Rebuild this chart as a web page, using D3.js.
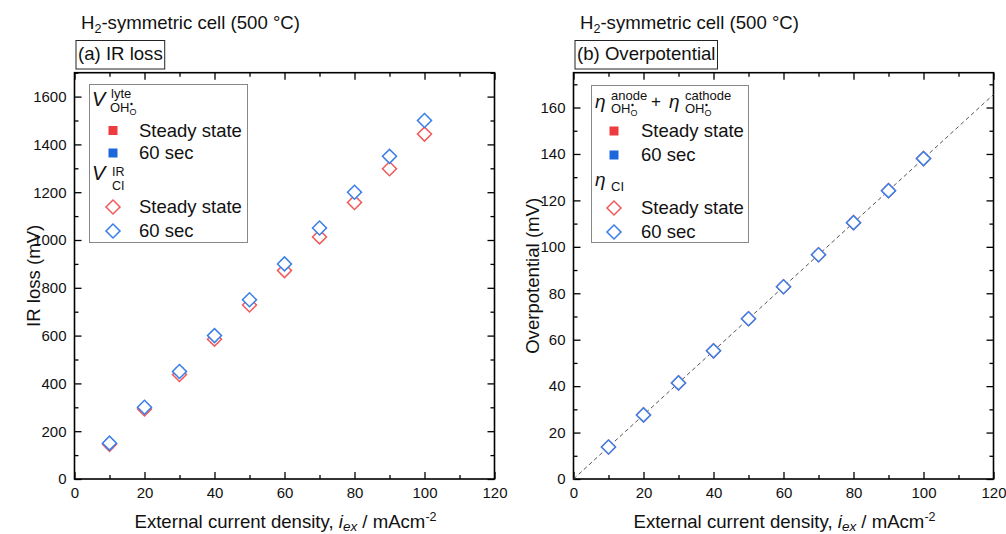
<!DOCTYPE html>
<html>
<head>
<meta charset="utf-8">
<script src="https://cdn.jsdelivr.net/npm/d3@7/dist/d3.min.js"></script>
<style>
  html, body { margin: 0; padding: 0; background: #fff; }
  svg { display: block; font-family: "Liberation Sans", Arial, sans-serif; }
</style>
</head>
<body>
<svg id="chart" width="1006" height="534"></svg>
<script>
// External current density (mA/cm^2)
const currentDensity = [10, 20, 30, 40, 50, 60, 70, 80, 90, 100];

// (a) IR loss, mV
const vLyteSteady = [145, 293, 437, 585, 728, 872, 1013, 1157, 1298, 1443];
const vLyte60s    = [150, 300, 450, 600, 750, 900, 1050, 1200, 1350, 1500];
const vIrClSteady = [145, 293, 437, 585, 728, 872, 1013, 1157, 1298, 1443];
const vIrCl60s    = [150, 300, 450, 600, 750, 900, 1050, 1200, 1350, 1500];

// (b) Overpotential, mV
const etaOhSteady = [13.8, 27.6, 41.4, 55.2, 69.0, 82.8, 96.6, 110.4, 124.2, 138.0];
const etaOh60s    = [13.8, 27.6, 41.4, 55.2, 69.0, 82.8, 96.6, 110.4, 124.2, 138.0];
const etaClSteady = [13.8, 27.6, 41.4, 55.2, 69.0, 82.8, 96.6, 110.4, 124.2, 138.0];
const etaCl60s    = [13.8, 27.6, 41.4, 55.2, 69.0, 82.8, 96.6, 110.4, 124.2, 138.0];

// Linear guide through the origin
const guideX = [0, 120];
const guideY = [0, 165.6];

// Axis ticks
const xTicks = [0, 20, 40, 60, 80, 100, 120];
const xMinor = [10, 30, 50, 70, 90, 110];
const yTicksA = [0, 200, 400, 600, 800, 1000, 1200, 1400, 1600];
const yMinorA = [100, 300, 500, 700, 900, 1100, 1300, 1500, 1700];
const yTicksB = [0, 20, 40, 60, 80, 100, 120, 140, 160];
const yMinorB = [10, 30, 50, 70, 90, 110, 130, 150, 170];

const RED_FILL = "#ee3b3f", BLUE_FILL = "#1c67dc";
const RED_LINE = "#f25a5a", BLUE_LINE = "#3a7ee8";
const INK = "#111";

const svg = d3.select("#chart");
const TOP = 72.7, BOTTOM = 479;

function panel(opts) {
  const g = svg.append("g");
  const x = d3.scaleLinear().domain([0, 120]).range([opts.left, opts.left + 420]);
  const y = d3.scaleLinear().domain(opts.yDomain).range([BOTTOM, TOP]);

  const tickStyle = sel => {
    sel.select(".domain").remove();
    sel.selectAll("line").attr("stroke", "#000").attr("stroke-width", 1.3);
    sel.selectAll("text").attr("font-size", 15).attr("fill", INK)
       .style("font-family", '"Liberation Sans", Arial, sans-serif');
  };

  // major + minor ticks on all four sides, pointing inward
  g.append("g").attr("transform", `translate(0,${BOTTOM})`)
    .call(d3.axisBottom(x).tickValues(xTicks).tickSize(-7).tickPadding(8).tickFormat(d3.format("d"))).call(tickStyle);
  g.append("g").attr("transform", `translate(0,${BOTTOM})`)
    .call(d3.axisBottom(x).tickValues(xMinor).tickSize(-4).tickFormat("")).call(tickStyle);
  g.append("g").attr("transform", `translate(0,${TOP})`)
    .call(d3.axisTop(x).tickValues(xTicks).tickSize(-7).tickFormat("")).call(tickStyle);
  g.append("g").attr("transform", `translate(0,${TOP})`)
    .call(d3.axisTop(x).tickValues(xMinor).tickSize(-4).tickFormat("")).call(tickStyle);
  g.append("g").attr("transform", `translate(${opts.left},0)`)
    .call(d3.axisLeft(y).tickValues(opts.yTicks).tickSize(-7).tickPadding(8).tickFormat(d3.format("d"))).call(tickStyle);
  g.append("g").attr("transform", `translate(${opts.left},0)`)
    .call(d3.axisLeft(y).tickValues(opts.yMinor).tickSize(-4).tickFormat("")).call(tickStyle);
  g.append("g").attr("transform", `translate(${opts.left + 420},0)`)
    .call(d3.axisRight(y).tickValues(opts.yTicks).tickSize(-7).tickFormat("")).call(tickStyle);
  g.append("g").attr("transform", `translate(${opts.left + 420},0)`)
    .call(d3.axisRight(y).tickValues(opts.yMinor).tickSize(-4).tickFormat("")).call(tickStyle);

  // frame
  g.append("rect").attr("x", opts.left).attr("y", TOP).attr("width", 420).attr("height", BOTTOM - TOP)
    .attr("fill", "none").attr("stroke", "#000").attr("stroke-width", 1.6);

  if (opts.guide) {
    g.append("path")
      .datum(guideX.map((d, i) => [d, guideY[i]]))
      .attr("d", d3.line().x(d => x(d[0])).y(d => y(d[1])))
      .attr("fill", "none").attr("stroke", "#555").attr("stroke-width", 1)
      .attr("stroke-dasharray", "4,3");
  }

  // filled squares (drawn first), open diamonds on top
  const square = d3.symbol().type(d3.symbolSquare).size(64);
  const diamond = d3.symbol().type(d3.symbolSquare).size(98);
  const drawSquares = (vals, color) => g.append("g").selectAll("path").data(vals).join("path")
    .attr("d", square).attr("fill", color)
    .attr("transform", (d, i) => `translate(${x(currentDensity[i])},${y(d)})`);
  const drawDiamonds = (vals, color) => g.append("g").selectAll("path").data(vals).join("path")
    .attr("d", diamond).attr("fill", "#fff").attr("stroke", color).attr("stroke-width", 1.5)
    .attr("transform", (d, i) => `translate(${x(currentDensity[i])},${y(d)}) rotate(45)`);
  drawSquares(opts.sq[0], RED_FILL);
  drawSquares(opts.sq[1], BLUE_FILL);
  drawDiamonds(opts.di[0], RED_LINE);
  drawDiamonds(opts.di[1], BLUE_LINE);

  // heading and panel tag
  const head = g.append("text").attr("x", opts.left + 6.5).attr("y", 28.5).attr("font-size", 18.6).attr("fill", INK);
  head.append("tspan").text("H");
  head.append("tspan").attr("font-size", 12.5).attr("dy", 4).text("2");
  head.append("tspan").attr("dy", -4).text("-symmetric cell (500 °C)");

  const tag = g.append("text").attr("x", opts.left + 3.5).attr("y", 60).attr("font-size", 18.6).attr("fill", INK).text(opts.tag);
  const bb = tag.node().getBBox();
  g.append("rect").attr("x", opts.left + 1.5).attr("y", 40.5).attr("width", bb.width + 4).attr("height", 28.5)
    .attr("fill", "none").attr("stroke", "#222").attr("stroke-width", 1);

  // axis titles
  const xt = g.append("text").attr("x", opts.left + 211).attr("y", 527.5).attr("text-anchor", "middle")
    .attr("font-size", 18.6).attr("fill", INK);
  xt.append("tspan").text("External current density, ");
  xt.append("tspan").attr("font-style", "italic").text("i");
  xt.append("tspan").attr("font-style", "italic").attr("font-size", 13.5).attr("dy", 3).text("ex");
  xt.append("tspan").attr("dy", -3).text(" / mAcm");
  xt.append("tspan").attr("font-size", 12.5).attr("dy", -7).text("-2");

  g.append("text").attr("transform", `translate(${opts.left - 35},${(TOP + BOTTOM) / 2}) rotate(-90)`)
    .attr("text-anchor", "middle").attr("font-size", 18.6).attr("fill", INK).text(opts.yLabel);

  return {g, x, y};
}

const A = panel({
  left: 74.5, yDomain: [0, 1700], yTicks: yTicksA, yMinor: yMinorA,
  sq: [vLyteSteady, vLyte60s], di: [vIrClSteady, vIrCl60s],
  tag: "(a) IR loss", yLabel: "IR loss (mV)", guide: false
});
const B = panel({
  left: 573.5, yDomain: [0, 175], yTicks: yTicksB, yMinor: yMinorB,
  sq: [etaOhSteady, etaOh60s], di: [etaClSteady, etaCl60s],
  tag: "(b) Overpotential", yLabel: "Overpotential (mV)", guide: true
});

// legends
function legendSymbols(g, sx, rows) {
  const square = d3.symbol().type(d3.symbolSquare).size(81);
  const diamond = d3.symbol().type(d3.symbolSquare).size(98);
  rows.forEach(r => {
    if (r.filled) {
      g.append("path").attr("d", square).attr("fill", r.color).attr("transform", `translate(${sx},${r.y})`);
    } else {
      g.append("path").attr("d", diamond).attr("fill", "#fff").attr("stroke", r.color).attr("stroke-width", 1.5)
        .attr("transform", `translate(${sx},${r.y}) rotate(45)`);
    }
    g.append("text").attr("x", r.tx).attr("y", r.y + 6).attr("font-size", 18.5).attr("fill", INK).text(r.label);
  });
}

// Kröger–Vink "OH" species label with a dot charge and O site subscript
function ohSpecies(g, x, y) {
  g.append("text").attr("x", x).attr("y", y).attr("font-size", 13).text("OH");
  g.append("circle").attr("cx", x + 21.5).attr("cy", y - 8).attr("r", 1.2).attr("fill", INK);
  g.append("text").attr("x", x + 19.5).attr("y", y + 2.5).attr("font-size", 9).text("O");
}

// (a) legend
{
  const g = A.g.append("g");
  g.append("rect").attr("x", 89.5).attr("y", 84.5).attr("width", 158).attr("height", 158)
    .attr("fill", "#fff").attr("stroke", "#888").attr("stroke-width", 1);
  const t1 = g.append("g").attr("fill", INK);
  t1.append("text").attr("x", 92).attr("y", 106).attr("font-size", 20).attr("font-style", "italic").text("V");
  t1.append("text").attr("x", 111).attr("y", 97.5).attr("font-size", 13).text("lyte");
  ohSpecies(t1, 110, 112);
  t1.append("text").attr("x", 92).attr("y", 179.5).attr("font-size", 20).attr("font-style", "italic").text("V");
  t1.append("text").attr("x", 112).attr("y", 175.5).attr("font-size", 12.5).text("IR");
  t1.append("text").attr("x", 112).attr("y", 190).attr("font-size", 12.5).text("CI");
  legendSymbols(g, 113, [
    {y: 130.5, filled: true, color: RED_FILL, label: "Steady state", tx: 139},
    {y: 153, filled: true, color: BLUE_FILL, label: "60 sec", tx: 139},
    {y: 207, filled: false, color: RED_LINE, label: "Steady state", tx: 139},
    {y: 231, filled: false, color: BLUE_LINE, label: "60 sec", tx: 139}
  ]);
}

// (b) legend
{
  const g = B.g.append("g");
  g.append("rect").attr("x", 591.5).attr("y", 85.5).attr("width", 157).attr("height", 157)
    .attr("fill", "#fff").attr("stroke", "#888").attr("stroke-width", 1);
  const t = g.append("g").attr("fill", INK);
  t.append("text").attr("x", 595).attr("y", 108).attr("font-size", 19).attr("font-style", "italic").text("η");
  t.append("text").attr("x", 611).attr("y", 99.5).attr("font-size", 13).text("anode");
  ohSpecies(t, 611, 113);
  t.append("text").attr("x", 651).attr("y", 107).attr("font-size", 17).text("+");
  t.append("text").attr("x", 669).attr("y", 108).attr("font-size", 19).attr("font-style", "italic").text("η");
  t.append("text").attr("x", 685).attr("y", 99.5).attr("font-size", 13).text("cathode");
  ohSpecies(t, 685, 113);
  t.append("text").attr("x", 595).attr("y", 186).attr("font-size", 19).attr("font-style", "italic").text("η");
  t.append("text").attr("x", 611).attr("y", 191).attr("font-size", 13).text("CI");
  legendSymbols(g, 614, [
    {y: 131, filled: true, color: RED_FILL, label: "Steady state", tx: 641},
    {y: 155, filled: true, color: BLUE_FILL, label: "60 sec", tx: 641},
    {y: 208, filled: false, color: RED_LINE, label: "Steady state", tx: 641},
    {y: 232, filled: false, color: BLUE_LINE, label: "60 sec", tx: 641}
  ]);
}
</script>
</body>
</html>
